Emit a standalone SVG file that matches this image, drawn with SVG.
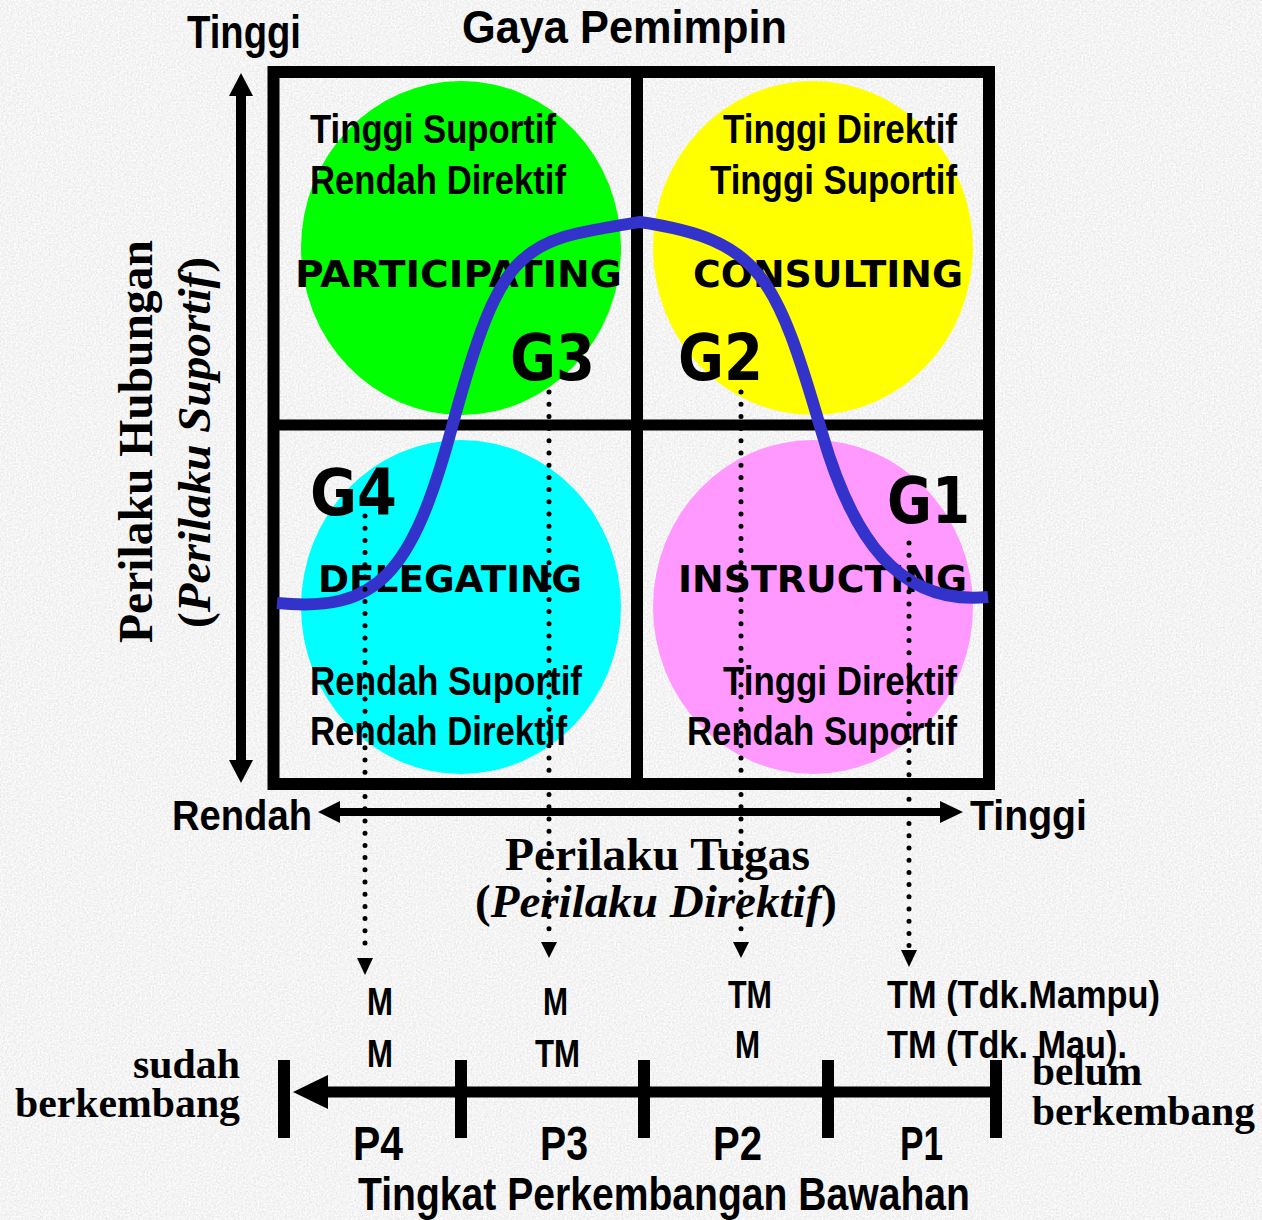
<svg xmlns="http://www.w3.org/2000/svg" width="1262" height="1220" viewBox="0 0 1262 1220">
<defs>
<filter id="grain" x="0" y="0" width="100%" height="100%">
<feTurbulence type="fractalNoise" baseFrequency="0.55" numOctaves="2" seed="7"/>
<feColorMatrix type="saturate" values="0"/>
<feComponentTransfer>
<feFuncR type="linear" slope="0.45" intercept="0.68"/>
<feFuncG type="linear" slope="0.45" intercept="0.68"/>
<feFuncB type="linear" slope="0.45" intercept="0.68"/>
<feFuncA type="linear" slope="0" intercept="1"/>
</feComponentTransfer>
</filter>
<style>
.nar{font-family:"Liberation Sans Narrow","Liberation Sans",Arial,sans-serif;font-weight:bold;fill:#000}
.wide{font-family:"DejaVu Sans",Verdana,sans-serif;font-weight:bold;fill:#000}
.ser{font-family:"Liberation Serif","Times New Roman",serif;font-weight:bold;fill:#000}
.q{font-size:40px}
.st{font-size:37px}
.g{font-size:64px}
.dot{fill:none;stroke:#000;stroke-width:5;stroke-linecap:round;stroke-dasharray:0 12.2}
.bar{fill:#000}
</style>
</defs>
<rect width="1262" height="1220" fill="#e6e6e6"/>
<rect width="1262" height="1220" filter="url(#grain)"/>

<g id="quad-participating">
<ellipse cx="461" cy="248" rx="160" ry="167" fill="#00ff00"/>
<text class="nar q" x="310" y="143" textLength="246" lengthAdjust="spacingAndGlyphs">Tinggi Suportif</text>
<text class="nar q" x="310" y="194" textLength="256" lengthAdjust="spacingAndGlyphs">Rendah Direktif</text>
<text class="wide st" x="295" y="287" textLength="327" lengthAdjust="spacingAndGlyphs">PARTICIPATING</text>
<text class="wide g" x="510" y="380" textLength="85" lengthAdjust="spacingAndGlyphs">G3</text>
</g>
<g id="quad-consulting">
<ellipse cx="813" cy="248" rx="160" ry="167" fill="#ffff00"/>
<text class="nar q" x="723" y="143" textLength="234" lengthAdjust="spacingAndGlyphs">Tinggi Direktif</text>
<text class="nar q" x="710" y="194" textLength="247" lengthAdjust="spacingAndGlyphs">Tinggi Suportif</text>
<text class="wide st" x="693" y="287" textLength="270" lengthAdjust="spacingAndGlyphs">CONSULTING</text>
<text class="wide g" x="678" y="380" textLength="85" lengthAdjust="spacingAndGlyphs">G2</text>
</g>
<g id="quad-delegating">
<ellipse cx="461" cy="607" rx="160" ry="167" fill="#00ffff"/>
<text class="wide g" x="310" y="515" textLength="87" lengthAdjust="spacingAndGlyphs">G4</text>
<text class="wide st" x="318" y="592" textLength="264" lengthAdjust="spacingAndGlyphs">DELEGATING</text>
<text class="nar q" x="310" y="695" textLength="272" lengthAdjust="spacingAndGlyphs">Rendah Suportif</text>
<text class="nar q" x="310" y="745" textLength="257" lengthAdjust="spacingAndGlyphs">Rendah Direktif</text>
</g>
<g id="quad-instructing">
<ellipse cx="813" cy="607" rx="160" ry="167" fill="#ff99ff"/>
<text class="wide g" x="887" y="523" textLength="83" lengthAdjust="spacingAndGlyphs">G1</text>
<text class="wide st" x="678" y="592" textLength="289" lengthAdjust="spacingAndGlyphs">INSTRUCTING</text>
<text class="nar q" x="723" y="695" textLength="234" lengthAdjust="spacingAndGlyphs">Tinggi Direktif</text>
<text class="nar q" x="687" y="745" textLength="270" lengthAdjust="spacingAndGlyphs">Rendah Suportif</text>
</g>

<g id="grid">
<rect x="273.5" y="72" width="715.5" height="712" fill="none" stroke="#000" stroke-width="12"/>
<rect class="bar" x="631" y="72" width="12" height="712"/>
<rect class="bar" x="273" y="419.5" width="716" height="11"/>
</g>

<g id="titles">
<text class="nar" x="187" y="48" font-size="47" textLength="114" lengthAdjust="spacingAndGlyphs">Tinggi</text>
<text class="nar" x="462" y="43" font-size="46" textLength="325" lengthAdjust="spacingAndGlyphs">Gaya Pemimpin</text>
</g>

<g id="axis-y">
<rect class="bar" x="236" y="94" width="10" height="668"/>
<polygon class="bar" points="241,73 229,96 253,96"/>
<polygon class="bar" points="241,783 229,760 253,760"/>
<text class="ser" font-size="48" transform="translate(152,643) rotate(-90)" textLength="403" lengthAdjust="spacingAndGlyphs">Perilaku Hubungan</text>
<text class="ser" font-size="46" transform="translate(210,628) rotate(-90)" textLength="371" lengthAdjust="spacingAndGlyphs">(<tspan font-style="italic">Perilaku Suportif</tspan>)</text>
</g>

<g id="axis-x">
<rect class="bar" x="338" y="808" width="604" height="8"/>
<polygon class="bar" points="318,812 340,801 340,823"/>
<polygon class="bar" points="963,812 940,801 940,823"/>
<text class="nar" x="172" y="830" font-size="42" textLength="140" lengthAdjust="spacingAndGlyphs">Rendah</text>
<text class="nar" x="970" y="830" font-size="42" textLength="117" lengthAdjust="spacingAndGlyphs">Tinggi</text>
<text class="ser" x="505" y="870" font-size="46" textLength="305" lengthAdjust="spacingAndGlyphs">Perilaku Tugas</text>
<text class="ser" x="475" y="917" font-size="46" textLength="362" lengthAdjust="spacingAndGlyphs">(<tspan font-style="italic">Perilaku Direktif</tspan>)</text>
</g>

<g id="connectors">
<path d="M 277 603 C 377 613, 412 575, 452 427 C 502 242, 520 241, 640 222 C 761 240, 776 275.5, 822 433 C 852 537, 898 606, 988 597" fill="none" stroke="#3333cc" stroke-width="12"/>
<path class="dot" d="M 365 516 V 954"/>
<polygon class="bar" points="357,958 373,958 365,975"/>
<path class="dot" d="M 549 392 V 938"/>
<polygon class="bar" points="541,942 557,942 549,958"/>
<path class="dot" d="M 741 392 V 938"/>
<polygon class="bar" points="733,942 749,942 741,958"/>
<path class="dot" d="M 909 543 V 946"/>
<polygon class="bar" points="901,950 917,950 909,967"/>
</g>

<g id="levels">
<text class="nar" x="367" y="1015" font-size="39" textLength="26" lengthAdjust="spacingAndGlyphs">M</text>
<text class="nar" x="367" y="1067" font-size="39" textLength="26" lengthAdjust="spacingAndGlyphs">M</text>
<text class="nar" x="543" y="1015" font-size="39" textLength="25" lengthAdjust="spacingAndGlyphs">M</text>
<text class="nar" x="535" y="1067" font-size="39" textLength="45" lengthAdjust="spacingAndGlyphs">TM</text>
<text class="nar" x="728" y="1008" font-size="39" textLength="44" lengthAdjust="spacingAndGlyphs">TM</text>
<text class="nar" x="735" y="1058" font-size="39" textLength="25" lengthAdjust="spacingAndGlyphs">M</text>
<text class="nar" x="887" y="1008" font-size="39" textLength="273" lengthAdjust="spacingAndGlyphs">TM (Tdk.Mampu)</text>
<text class="nar" x="887" y="1058" font-size="39" textLength="240" lengthAdjust="spacingAndGlyphs">TM (Tdk. Mau).</text>
</g>

<g id="scale">
<rect class="bar" x="320" y="1086.5" width="676" height="11"/>
<polygon class="bar" points="293,1092 328,1075 328,1109"/>
<rect class="bar" x="278" y="1060" width="12" height="78"/>
<rect class="bar" x="455" y="1060" width="12" height="78"/>
<rect class="bar" x="638" y="1060" width="12" height="78"/>
<rect class="bar" x="822" y="1060" width="12" height="78"/>
<rect class="bar" x="990" y="1060" width="12" height="78"/>
<text class="nar" x="353" y="1160" font-size="48" textLength="50" lengthAdjust="spacingAndGlyphs">P4</text>
<text class="nar" x="540" y="1160" font-size="48" textLength="48" lengthAdjust="spacingAndGlyphs">P3</text>
<text class="nar" x="713" y="1160" font-size="48" textLength="49" lengthAdjust="spacingAndGlyphs">P2</text>
<text class="nar" x="900" y="1160" font-size="48" textLength="43" lengthAdjust="spacingAndGlyphs">P1</text>
<text class="nar" x="358" y="1210" font-size="46" textLength="612" lengthAdjust="spacingAndGlyphs">Tingkat Perkembangan Bawahan</text>
<text class="ser" x="133" y="1078" font-size="42" textLength="107" lengthAdjust="spacingAndGlyphs">sudah</text>
<text class="ser" x="15" y="1117" font-size="42" textLength="225" lengthAdjust="spacingAndGlyphs">berkembang</text>
<text class="ser" x="1032" y="1085" font-size="42" textLength="110" lengthAdjust="spacingAndGlyphs">belum</text>
<text class="ser" x="1032" y="1125" font-size="42" textLength="223" lengthAdjust="spacingAndGlyphs">berkembang</text>
</g>
</svg>
